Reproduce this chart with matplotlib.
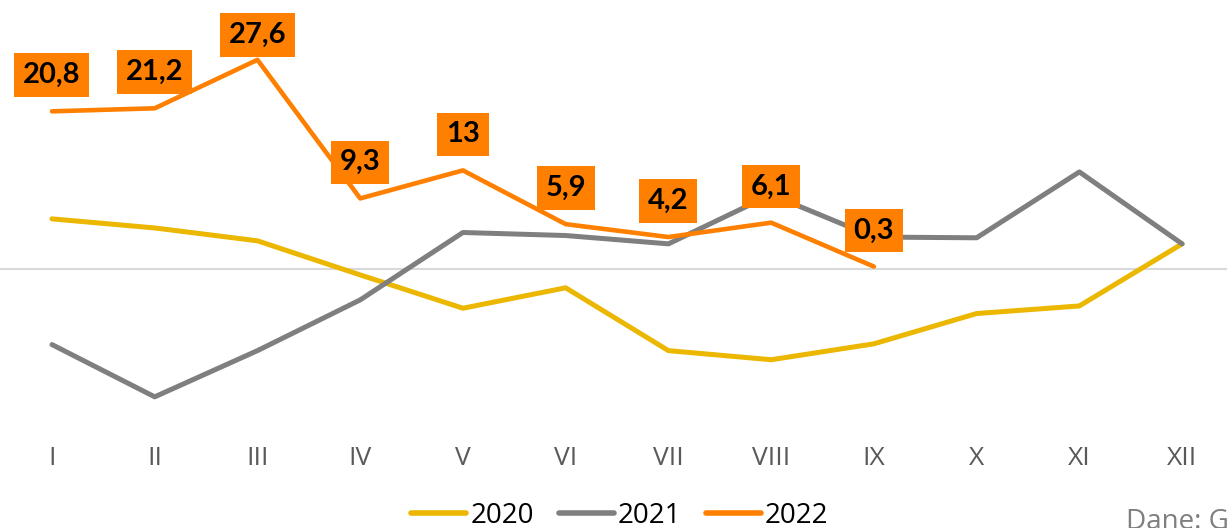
import matplotlib.pyplot as plt

months = ['I', 'II', 'III', 'IV', 'V', 'VI', 'VII', 'VIII', 'IX', 'X', 'XI', 'XII']
y2020 = [6.6, 5.4, 3.7, -0.8, -5.2, -2.5, -10.8, -12.0, -9.9, -5.9, -4.9, 3.3]
y2021 = [-10.0, -16.9, -10.8, -4.1, 4.8, 4.4, 3.3, 9.8, 4.2, 4.1, 12.8, 3.3]
y2022 = [20.8, 21.2, 27.6, 9.3, 13.0, 5.9, 4.2, 6.1, 0.3]
labels2022 = ['20,8', '21,2', '27,6', '9,3', '13', '5,9', '4,2', '6,1', '0,3']

c2020 = '#EBB700'
c2021 = '#7F7F7F'
c2022 = '#FF8000'

fig = plt.figure(figsize=(12.27, 5.28), dpi=100)
ax = fig.add_axes([0, 1 - 440 / 528, 1, 440 / 528])

x = list(range(len(months)))
ax.axhline(0, color='#D9D9D9', lw=1.5, zorder=1)
ax.plot(x, y2020, color=c2020, lw=3.6, label='2020', solid_capstyle='round', zorder=2)
ax.plot(x, y2021, color=c2021, lw=3.6, label='2021', solid_capstyle='round', zorder=3)
ax.plot(x[:len(y2022)], y2022, color=c2022, lw=3.3, label='2022', solid_capstyle='round', zorder=4)

for i, (v, t) in enumerate(zip(y2022, labels2022)):
    off = 26 if v < 25 else 18
    ax.annotate(t, (i, v), xytext=(0, off), textcoords='offset points',
                ha='center', va='center', fontsize=21, fontweight='bold',
                family='Lato', color='black', zorder=6,
                bbox=dict(boxstyle='square,pad=0.3', fc=c2022, ec='none'))

ax.set_xlim(-0.506, 11.437)
ax.set_ylim(-22.6, 35.5)
ax.set_xticks(x)
ax.set_xticklabels(months, family='Open Sans', fontsize=19, color='#595959')
ax.tick_params(axis='x', length=0, pad=4.5)
ax.set_yticks([])
for s in ax.spines.values():
    s.set_visible(False)

leg = fig.legend(loc='center', bbox_to_anchor=(620 / 1227, 1 - 516 / 528), ncol=3,
                 frameon=False, prop={'family': 'Open Sans', 'size': 20},
                 handlelength=1.98, handletextpad=0.14, columnspacing=0.9,
                 borderpad=0, borderaxespad=0)
for h in leg.legend_handles:
    h.set_linewidth(4)

fig.text(1126 / 1227, 1 - 508 / 528, 'Dane: GUS', family='Open Sans', fontsize=20,
         color='#7F7F7F', ha='left', va='top')

fig.savefig('out.png', dpi=100)
